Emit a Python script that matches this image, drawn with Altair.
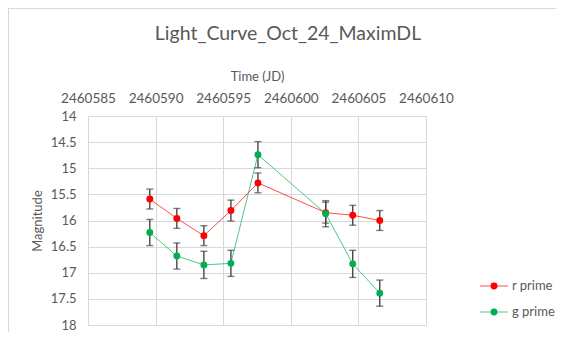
import altair as alt
import pandas as pd

# ---- data ----
jd = [2460589.57, 2460591.57, 2460593.57, 2460595.57, 2460597.57,
      2460602.58, 2460604.58, 2460606.58]
r_mag = [15.59, 15.96, 16.29, 15.81, 15.28, 15.85, 15.90, 16.00]
r_err = [0.19, 0.19, 0.19, 0.20, 0.19, 0.20, 0.19, 0.19]
g_mag = [16.23, 16.68, 16.85, 16.82, 14.74, 15.87, 16.83, 17.39]
g_err = [0.25, 0.25, 0.26, 0.25, 0.25, 0.25, 0.26, 0.25]
series_names = ["r prime", "g prime"]
series_colors = ["#ff0000", "#00b050"]
x_ticks = [2460585, 2460590, 2460595, 2460600, 2460605, 2460610]
y_ticks = [14, 14.5, 15, 15.5, 16, 16.5, 17, 17.5, 18]
TITLE = "Light_Curve_Oct_24_MaximDL"

rows = []
for name, mags, errs in [("r prime", r_mag, r_err), ("g prime", g_mag, g_err)]:
    for t, m, e in zip(jd, mags, errs):
        rows.append({"series": name, "jd": t, "mag": m, "lo": m - e, "hi": m + e})
df = pd.DataFrame(rows)

W, H = 338, 209
PAD = {"left": 80, "top": 108, "right": 130, "bottom": 7}
FONT = "Lato"
TXT = "#595959"
GRID = "#d9d9d9"
EBAR = "#474747"

xs = alt.Scale(domain=[x_ticks[0], x_ticks[-1]], nice=False, zero=False)
ys = alt.Scale(domain=[y_ticks[0], y_ticks[-1]], nice=False, zero=False, reverse=True)
cs = alt.Scale(domain=series_names, range=series_colors)

xaxis = alt.Axis(orient="top", values=x_ticks, format="d", title="Time (JD)",
                 grid=True, gridColor=GRID, domain=False, ticks=False, tickSize=0,
                 labelPadding=11, titlePadding=8, labelFontSize=13.5, titleFontSize=13,
                 labelColor=TXT, titleColor=TXT, labelFont=FONT, titleFont=FONT,
                 titleFontWeight="normal", labelFlush=False, labelOverlap=False)
yaxis = alt.Axis(values=y_ticks, format=".1~f", title="Magnitude", tickCount=9,
                 grid=True, gridColor=GRID, domain=False, ticks=False, tickSize=0,
                 labelPadding=12, titlePadding=6, labelFontSize=13, titleFontSize=13,
                 labelColor=TXT, titleColor=TXT, labelFont=FONT, titleFont=FONT,
                 titleFontWeight="normal", labelOverlap=False, labelFlush=False,
                 labelBaseline="middle")

base = alt.Chart(df)
X = alt.X("jd:Q", scale=xs, axis=xaxis)
Y = alt.Y("mag:Q", scale=ys, axis=yaxis)
Ylo = alt.Y("lo:Q", scale=ys, axis=yaxis)
Yhi = alt.Y("hi:Q", scale=ys, axis=yaxis)
C = alt.Color("series:N", scale=cs, legend=None)

lines = base.mark_line(strokeWidth=1, opacity=0.7).encode(x=X, y=Y, color=C, detail="series:N")
bars = base.mark_rule(color=EBAR, strokeWidth=1.4).encode(x=X, y=Ylo, y2="hi:Q")
cap_lo = base.mark_tick(color=EBAR, orient="horizontal", size=7, thickness=1.4).encode(x=X, y=Ylo)
cap_hi = base.mark_tick(color=EBAR, orient="horizontal", size=7, thickness=1.4).encode(x=X, y=Yhi)
pts = base.mark_point(filled=True, size=48, opacity=1).encode(x=X, y=Y, color=C)

# custom legend
leg_layers = []
for i, (name, col) in enumerate(zip(series_names, series_colors)):
    ld = pd.DataFrame({"series": [name]})
    yv = 170 + 26 * i
    lc = alt.Chart(ld)
    leg_layers.append(lc.mark_rect(color=col, opacity=0.7).encode(
        x=alt.value(392), x2=alt.value(420), y=alt.value(yv - 0.5), y2=alt.value(yv + 0.5)))
    leg_layers.append(lc.mark_point(filled=True, size=48, color=col, opacity=1).encode(
        x=alt.value(406), y=alt.value(yv)))
    leg_layers.append(lc.mark_text(align="left", baseline="middle", font=FONT,
                                   fontSize=13, color=TXT).encode(
        x=alt.value(424), y=alt.value(yv), text="series:N"))

title = alt.Chart(pd.DataFrame({"t": [TITLE]})).mark_text(
    align="center", baseline="alphabetic", font=FONT, fontSize=19.5, color=TXT
).encode(x=alt.value(200), y=alt.value(-76), text="t:N")

# chart-area frame (top and left edges), drawn as thin filled rects
border = alt.Chart(pd.DataFrame({"k": [0]}))
top_b = border.mark_rect(color=GRID, strokeWidth=0).encode(
    x=alt.value(-PAD["left"]), x2=alt.value(W + PAD["right"]),
    y=alt.value(-PAD["top"]), y2=alt.value(-PAD["top"] + 1))
left_b = border.mark_rect(color=GRID, strokeWidth=0).encode(
    x=alt.value(-PAD["left"]), x2=alt.value(-PAD["left"] + 1),
    y=alt.value(-PAD["top"]), y2=alt.value(H + PAD["bottom"]))

chart = alt.layer(
    lines, bars, cap_lo, cap_hi, pts, *leg_layers, title, top_b, left_b
).properties(
    width=W, height=H,
    autosize=alt.AutoSizeParams(type="none"),
    padding=PAD,
).configure_view(stroke=GRID, strokeWidth=1).configure(background="white")

chart.save("out.html", embed_options={"renderer": "svg", "actions": False})
